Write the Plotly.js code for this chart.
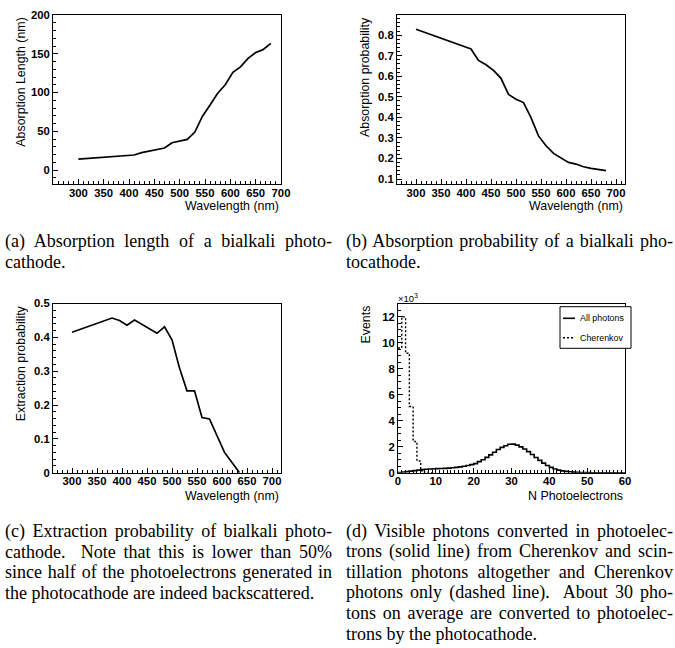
<!DOCTYPE html>
<html><head><meta charset="utf-8">
<script src="https://cdn.plot.ly/plotly-3.0.1.min.js"></script>
<style>html,body{margin:0;padding:0;background:#fff}#chart{width:675px;height:648px}
#chart .xtick text, #chart .ytick text, #chart .x2tick text, #chart .y2tick text,
#chart .x3tick text, #chart .y3tick text, #chart .x4tick text, #chart .y4tick text{font-weight:700 !important}</style>
</head><body><div id="chart"></div>
<script>
// ---------- data ----------
const wlA = [300,410,425,440,455,470,485,500,515,530,545,560,575,590,605,620,635,650,665,680];
const absLength = [14.2,19.4,22.4,24.5,26.2,28.4,35.3,37.8,39.5,49,69.5,84,99,110,126,133,144,151.5,155.5,163.4];

const wlB = [300,410,425,440,455,470,485,500,515,530,545,560,575,590,605,620,635,650,665,680];
const absProb = [0.829,0.733,0.677,0.656,0.629,0.590,0.512,0.488,0.472,0.399,0.310,0.262,0.225,0.201,0.181,0.173,0.160,0.152,0.147,0.141];

const wlC = [300,380,395,410,425,470,485,500,515,530,545,560,575,590,605,620,635];
const extrProb = [0.415,0.457,0.450,0.436,0.451,0.412,0.431,0.393,0.309,0.242,0.242,0.163,0.159,0.107,0.060,0.030,0];

const allPhotons = [20,50,80,120,160,200,240,260,280,300,310,320,335,355,380,410,450,500,555,620,
  700,850,1000,1180,1370,1580,1790,1950,2070,2190,2200,2120,1990,1820,1620,1400,1170,950,740,560,
  410,290,200,140,100,70,45,28,15,8,4,0,0,0,0,0,0,0,0,0];
const cherenkov = [9600,12000,9200,5100,2400,900,150,30,0];

const wlTicks = [300,350,400,450,500,550,600,650,700];
const evTickVals = [0,2000,4000,6000,8000,10000,12000];
const evTickText = ['0','2','4','6','8','10','12'];

const captionA = ['(a) Absorption length of a bialkali photo-','cathode.'];
const captionB = ['(b) Absorption probability of a bialkali pho-','tocathode.'];
const captionC = ['(c) Extraction probability of bialkali photo-','cathode.  Note that this is lower than 50%',
  'since half of the photoelectrons generated in','the photocathode are indeed backscattered.'];
const captionD = ['(d) Visible photons converted in photoelec-','trons (solid line) from Cherenkov and scin-',
  'tillation photons altogether and Cherenkov','photons only (dashed line).  About 30 pho-',
  'tons on average are converted to photoelec-','trons by the photocathode.'];

// ---------- layout helpers ----------
const W = 675, H = 648;
const fx = p => p / W;
const fy = p => 1 - p / H;
const SANS = 'Liberation Sans, Arial, Helvetica, sans-serif';
const SERIF = 'Liberation Serif, Times New Roman, serif';

function ax(extra) {
  return Object.assign({
    showline: true, linecolor: '#000', linewidth: 1, mirror: true,
    ticks: 'inside', ticklen: 5, tickwidth: 1, tickcolor: '#000',
    showgrid: false, zeroline: false, fixedrange: true,
    tickfont: {family: SANS, size: 11.3, weight: 700, color: '#000'}
  }, extra);
}
function xax(extra) { return ax(Object.assign({ticklabelstandoff: -2}, extra)); }
function minor(d) { return {ticks: 'inside', ticklen: 3, tickwidth: 1, tickcolor: '#000', dtick: d, tick0: 0, showgrid: false}; }

const topRow = [fy(184), fy(15)];
const botRow = [fy(472.7), fy(303.5)];

const stepEdges = arr => arr.map((_, i) => i).concat([arr.length]);
const stepVals = arr => arr.concat([arr[arr.length - 1]]);

const lineStyle = {color: '#000', width: 1.7};
const traces = [
  {x: wlA, y: absLength, xaxis: 'x', yaxis: 'y', mode: 'lines', line: lineStyle, name: 'Absorption length'},
  {x: wlB, y: absProb, xaxis: 'x2', yaxis: 'y2', mode: 'lines', line: lineStyle, name: 'Absorption probability'},
  {x: wlC, y: extrProb, xaxis: 'x3', yaxis: 'y3', mode: 'lines', line: lineStyle, name: 'Extraction probability'},
  {x: stepEdges(allPhotons), y: stepVals(allPhotons), xaxis: 'x4', yaxis: 'y4', mode: 'lines',
   line: {color: '#000', width: 1.6, shape: 'hv'}, name: 'All photons'},
  {x: stepEdges(cherenkov), y: stepVals(cherenkov), xaxis: 'x4', yaxis: 'y4', mode: 'lines',
   line: {color: '#000', width: 1.4, shape: 'hv', dash: '2px,2px'}, name: 'Cherenkov'}
];

const titleFont = {family: SANS, size: 12.4, color: '#000'};
function note(text, x, y, xa, ya, font, angle) {
  return {text: text, xref: 'paper', yref: 'paper', x: x, y: y, xanchor: xa, yanchor: ya,
          showarrow: false, font: font, textangle: angle || 0, align: 'left'};
}

const annotations = [
  note('Absorption Length (nm)', fx(20.7), fy(15), 'center', 'top', titleFont, -90),
  note('Wavelength (nm)', fx(281), fy(206), 'right', 'middle', titleFont),
  note('Absorption probability', fx(365), fy(15), 'center', 'top', titleFont, -90),
  note('Wavelength (nm)', fx(625), fy(206), 'right', 'middle', titleFont),
  note('Extraction probability', fx(20.7), fy(303.5), 'center', 'top', titleFont, -90),
  note('Wavelength (nm)', fx(281), fy(495.5), 'right', 'middle', titleFont),
  note('Events', fx(365), fy(303.5), 'center', 'top', titleFont, -90),
  note('N Photoelectrons', fx(625), fy(496), 'right', 'middle', titleFont),
  note('\u00d710<sup>3</sup>', fx(396), fy(297.5), 'left', 'middle', {family: SANS, size: 9.5, color: '#000'}),
  note('All photons', fx(578), fy(318.3), 'left', 'middle', {family: SANS, size: 8.9, color: '#000'}),
  note('Cherenkov', fx(578), fy(337.7), 'left', 'middle', {family: SANS, size: 8.9, color: '#000'})
];

const capFont = {family: SERIF, size: 18, color: '#000'};
const justify = [];
function addCaption(lines, x0, yStart) {
  lines.forEach((t, i) => {
    if (i < lines.length - 1) justify.push(annotations.length);
    annotations.push(note(t, fx(x0), fy(yStart + i * 20.6), 'left', 'middle', capFont));
  });
}
const COL_L = 3, COL_R = 344, COL_W = 327;
addCaption(captionA, COL_L, 241);
addCaption(captionB, COL_R, 241);
addCaption(captionC, COL_L, 531);
addCaption(captionD, COL_R, 531);

const shapes = [
  {type: 'rect', xref: 'paper', yref: 'paper', x0: fx(560), x1: fx(631), y0: fy(348.3), y1: fy(306.7),
   line: {color: '#000', width: 1}, fillcolor: '#fff', layer: 'above'},
  {type: 'line', xref: 'paper', yref: 'paper', x0: fx(563), x1: fx(575), y0: fy(318.3), y1: fy(318.3),
   line: {color: '#000', width: 1.6}},
  {type: 'line', xref: 'paper', yref: 'paper', x0: fx(563), x1: fx(575), y0: fy(337.7), y1: fy(337.7),
   line: {color: '#000', width: 1.4, dash: '2px,2px'}}
];

const layout = {
  width: W, height: H, margin: {l: 0, r: 0, t: 0, b: 0},
  paper_bgcolor: '#fff', plot_bgcolor: '#fff', showlegend: false,
  font: {family: SANS, color: '#000'},
  xaxis: xax({domain: [fx(53), fx(281)], anchor: 'y', range: [250, 700], tickmode: 'array', tickvals: wlTicks, minor: minor(10)}),
  yaxis: ax({domain: topRow, anchor: 'x', range: [-18, 200], dtick: 50, tick0: 0, minor: minor(10)}),
  xaxis2: xax({domain: [fx(397), fx(625)], anchor: 'y2', range: [262, 718], tickmode: 'array', tickvals: wlTicks, minor: minor(10)}),
  yaxis2: ax({domain: topRow, anchor: 'x2', range: [0.076, 0.898], dtick: 0.1, tick0: 0, tickformat: '.1f', minor: minor(0.02)}),
  xaxis3: xax({domain: [fx(53), fx(281)], anchor: 'y3', range: [262, 718], tickmode: 'array', tickvals: wlTicks, minor: minor(10)}),
  yaxis3: ax({domain: botRow, anchor: 'x3', range: [0, 0.5], dtick: 0.1, tick0: 0, minor: minor(0.02)}),
  xaxis4: xax({domain: [fx(398), fx(625)], anchor: 'y4', range: [0, 60], dtick: 10, tick0: 0, minor: minor(1)}),
  yaxis4: ax({domain: botRow, anchor: 'x4', range: [0, 13030], tickmode: 'array', tickvals: evTickVals, ticktext: evTickText, minor: minor(500)}),
  annotations: annotations,
  shapes: shapes
};

Plotly.newPlot('chart', traces, layout, {staticPlot: true, displayModeBar: false}).then(() => {
  justify.forEach(idx => {
    const g = document.querySelector('.annotation[data-index="' + idx + '"]');
    if (!g) return;
    const t = g.querySelector('text.annotation-text');
    if (!t) return;
    const w0 = t.getComputedTextLength();
    const n = (t.textContent.match(/ /g) || []).length;
    if (!n || w0 >= COL_W) return;
    t.style.wordSpacing = ((COL_W - w0) / n) + 'px';
    const w1 = t.getComputedTextLength();
    if (Math.abs(w1 - w0) < 0.5) {
      t.setAttribute('textLength', COL_W);
      t.setAttribute('lengthAdjust', 'spacing');
    }
  });
});
</script>
</body></html>
